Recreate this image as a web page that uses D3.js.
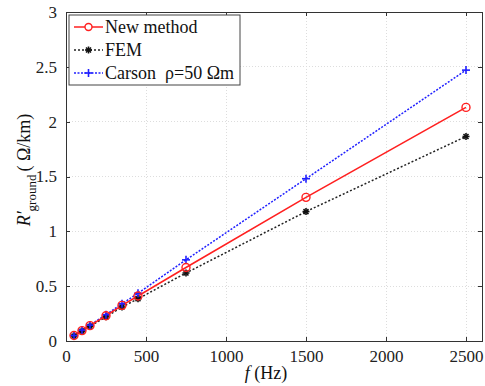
<!DOCTYPE html>
<html lang="en">
<head>
<meta charset="UTF-8">
<title>R'ground vs f</title>
<style>
  body { margin: 0; background: #fff; }
  svg text { font-family: "Times New Roman", "Liberation Serif", "DejaVu Serif", serif; white-space: pre; }
  .Axis path, .Axis line { stroke: #333; shape-rendering: crispEdges; }
  .Axis text { font-size: 17px; fill: #222; }
  .grid line { stroke: #ddd; stroke-dasharray: 1,2; shape-rendering: crispEdges; }
</style>
<script src="https://d3js.org/d3.v7.min.js"></script>
</head>
<body>
<script>
  // frequencies (Hz)
  var freq = [50, 100, 150, 250, 350, 450, 750, 1500, 2500];
  var newMethod = [0.05, 0.095, 0.14, 0.23, 0.325, 0.41, 0.67, 1.31, 2.13];
  var fem = [0.045, 0.09, 0.135, 0.22, 0.31, 0.385, 0.62, 1.18, 1.865];
  var carson = [0.05, 0.1, 0.145, 0.24, 0.34, 0.435, 0.74, 1.48, 2.47];
  var xTicks = [0, 500, 1000, 1500, 2000, 2500];
  var yTicks = [0, 0.5, 1, 1.5, 2, 2.5, 3];
  var seriesNames = ["New method", "FEM", "Carson  \u03c1=50 \u03a9m"];

  const w = 485, h = 386,
        mLeft = 66, mRight = 482, mTop = 12, mBottom = 341;

  const svg = d3.select("body").append("svg")
      .attr("width", w).attr("height", h);

  var x = d3.scaleLinear().domain([0, 2600]).range([mLeft, mRight]);
  var y = d3.scaleLinear().domain([0, 3]).range([mBottom, mTop]);

  // grid
  svg.append("g").attr("class", "grid")
     .selectAll("line").data(xTicks.slice(1)).enter().append("line")
     .attr("x1", d => x(d)).attr("x2", d => x(d))
     .attr("y1", mTop).attr("y2", mBottom);
  svg.append("g").attr("class", "grid")
     .selectAll("line").data(yTicks.slice(1, -1)).enter().append("line")
     .attr("x1", mLeft).attr("x2", mRight)
     .attr("y1", d => y(d)).attr("y2", d => y(d));

  // axes (inward ticks, MATLAB box)
  svg.append("g").attr("class", "Axis")
     .attr("transform", "translate(0," + mBottom + ")")
     .call(d3.axisBottom(x).tickValues(xTicks).tickFormat(d => String(d))
       .tickSize(-4).tickPadding(9).tickSizeOuter(0));
  svg.append("g").attr("class", "Axis")
     .attr("transform", "translate(0," + mTop + ")")
     .call(d3.axisTop(x).tickValues(xTicks).tickSize(-4).tickFormat("").tickSizeOuter(0));
  svg.append("g").attr("class", "Axis")
     .attr("transform", "translate(" + mLeft + ",0)")
     .call(d3.axisLeft(y).tickValues(yTicks).tickFormat(d => String(d))
       .tickSize(-4).tickPadding(9).tickSizeOuter(0));
  svg.append("g").attr("class", "Axis")
     .attr("transform", "translate(" + mRight + ",0)")
     .call(d3.axisRight(y).tickValues(yTicks).tickSize(-4).tickFormat("").tickSizeOuter(0));
  svg.selectAll(".Axis").attr("font-family", null);
  svg.selectAll(".Axis .domain").attr("stroke", "#555");

  var line = d3.line().x(d => x(d[0])).y(d => y(d[1]));

  function zip(v) { return freq.map((f, i) => [f, v[i]]); }

  // FEM (black dotted, star)
  svg.append("path").datum(zip(fem)).attr("d", line)
     .attr("fill", "none").attr("stroke", "#222").attr("stroke-width", 1.5)
     .attr("stroke-dasharray", "2,2");
  // Carson (blue dotted, plus)
  svg.append("path").datum(zip(carson)).attr("d", line)
     .attr("fill", "none").attr("stroke", "#2020ff").attr("stroke-width", 1.5)
     .attr("stroke-dasharray", "2,1.5");
  // New method (red solid, circle)
  svg.append("path").datum(zip(newMethod)).attr("d", line)
     .attr("fill", "none").attr("stroke", "#ff2020").attr("stroke-width", 1.6);

  function star(g, cx, cy, r, col) {
    for (let a = 0; a < 4; a++) {
      let ang = a * Math.PI / 4;
      g.append("line")
       .attr("x1", cx - r * Math.cos(ang)).attr("y1", cy - r * Math.sin(ang))
       .attr("x2", cx + r * Math.cos(ang)).attr("y2", cy + r * Math.sin(ang))
       .attr("stroke", col).attr("stroke-width", 1.6);
    }
  }
  function plus(g, cx, cy, r, col) {
    g.append("line").attr("x1", cx - r).attr("x2", cx + r).attr("y1", cy).attr("y2", cy)
     .attr("stroke", col).attr("stroke-width", 1.6);
    g.append("line").attr("x1", cx).attr("x2", cx).attr("y1", cy - r).attr("y2", cy + r)
     .attr("stroke", col).attr("stroke-width", 1.6);
  }

  var mk = svg.append("g");
  svg.append("g").selectAll("circle").data(zip(newMethod)).enter().append("circle")
     .attr("cx", d => x(d[0])).attr("cy", d => y(d[1])).attr("r", 4)
     .attr("fill", "none").attr("stroke", "#ff2020").attr("stroke-width", 1.4);
  zip(fem).forEach(d => star(mk, x(d[0]), y(d[1]), 3.5, "#111"));
  zip(carson).forEach(d => plus(mk, x(d[0]), y(d[1]), 4, "#2020ff"));

  // legend
  var lg = svg.append("g").attr("transform", "translate(69,15)");
  lg.append("rect").attr("width", 171).attr("height", 70)
    .attr("fill", "#fff").attr("stroke", "#444").attr("stroke-width", 1);
  var styles = [
    { col: "#ff2020", dash: null },
    { col: "#222", dash: "2,2" },
    { col: "#2020ff", dash: "2,1.5" }
  ];
  seriesNames.forEach((name, i) => {
    let cy = 12 + i * 23;
    lg.append("line").attr("x1", 5).attr("x2", 34).attr("y1", cy).attr("y2", cy)
      .attr("stroke", styles[i].col).attr("stroke-width", 1.5)
      .attr("stroke-dasharray", styles[i].dash);
    if (i == 0) lg.append("circle").attr("cx", 19.5).attr("cy", cy).attr("r", 3.5)
      .attr("fill", "#fff").attr("stroke", styles[i].col).attr("stroke-width", 1.4);
    if (i == 1) star(lg, 19.5, cy, 3.5, "#111");
    if (i == 2) plus(lg, 19.5, cy, 4, styles[i].col);
    lg.append("text").attr("x", 36).attr("y", cy + 6).text(name)
      .attr("font-size", 18).attr("fill", "#111");
  });

  // axis titles
  var xl = svg.append("text").attr("x", 266).attr("y", 379)
     .attr("text-anchor", "middle").attr("font-size", 18).attr("fill", "#111");
  xl.append("tspan").attr("font-style", "italic").text("f");
  xl.append("tspan").text(" (Hz)");

  var yl = svg.append("text").attr("transform", "translate(30,170) rotate(-90)")
     .attr("text-anchor", "middle").attr("font-size", 18).attr("fill", "#111");
  yl.append("tspan").attr("font-style", "italic").text("R\u2032");
  yl.append("tspan").attr("font-size", 13).attr("dy", 6).text("ground");
  yl.append("tspan").attr("dy", -6).attr("dx", 3).text("( \u03a9/km)");
</script>
</body>
</html>
